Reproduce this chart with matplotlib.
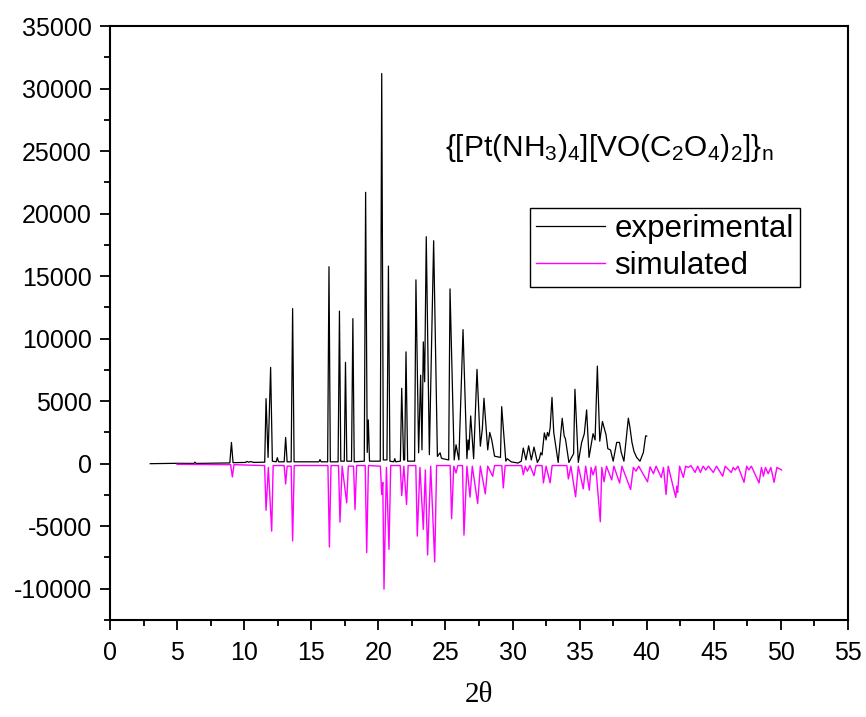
import matplotlib
matplotlib.use('Agg')
import matplotlib.pyplot as plt
from matplotlib.ticker import MultipleLocator

plt.rcParams['font.family'] = ['Liberation Sans', 'DejaVu Sans']
plt.rcParams['mathtext.fontset'] = 'custom'
plt.rcParams['mathtext.rm'] = 'Liberation Sans'
plt.rcParams['mathtext.it'] = 'Liberation Sans:italic'
plt.rcParams['axes.unicode_minus'] = False

# experimental pattern, vertices (2theta, counts)
exp_2theta = [3.0, 5.0, 6.25, 6.33, 6.41, 8.93, 9.05, 9.17, 10.1, 10.2, 10.35, 10.5, 10.7,
              11.53, 11.63, 11.78, 11.97, 12.1, 12.38, 12.47, 12.56, 12.98, 13.09, 13.2,
              13.5, 13.61, 13.72, 15.57, 15.65, 15.73, 16.22, 16.32, 16.42, 17.0, 17.1, 17.2,
              17.46, 17.55, 17.65, 18.0, 18.1, 18.2, 18.95, 19.05, 19.17, 19.25, 19.34, 20.14,
              20.25, 20.37, 20.64, 20.75, 20.86, 21.15, 21.22, 21.3, 21.64, 21.74, 21.88,
              21.96, 22.06, 22.18, 22.7, 22.8, 23.0, 23.15, 23.25, 23.35, 23.45, 23.57, 23.8,
              24.12, 24.4, 24.6, 24.7, 24.8, 25.24, 25.34, 25.65, 25.79, 26.0, 26.31, 26.6,
              26.68, 26.75, 26.88, 27.1, 27.35, 27.6, 27.75, 27.87, 28.15, 28.3, 28.45, 28.66,
              29.1, 29.19, 29.5, 29.6, 29.9, 30.4, 30.65, 30.8, 31.0, 31.2, 31.4, 31.6,
              31.85, 32.0, 32.1, 32.2, 32.37, 32.5, 32.6, 32.7, 32.8, 32.94, 33.07, 33.4,
              33.7, 33.85, 33.94, 34.2, 34.55, 34.65, 34.9, 35.15, 35.35, 35.52, 35.7, 35.9,
              36.0, 36.15, 36.32, 36.5, 36.7, 36.97, 37.1, 37.3, 37.5, 37.76, 37.97, 38.1,
              38.3, 38.63, 38.75, 38.9, 39.05, 39.25, 39.5, 39.75, 39.92, 40.0]
exp_counts = [0, 30, 20, 120, 20, 60, 1700, 80, 100, 180, 120, 170, 100,
              120, 5200, 500, 7700, 200, 150, 480, 150, 150, 2100, 150,
              150, 12400, 150, 150, 330, 150, 150, 15750, 150, 150, 12200, 200,
              200, 8100, 200, 200, 11600, 150, 200, 21700, 900, 3500, 200, 200,
              31200, 300, 300, 15800, 200, 150, 400, 150, 200, 6030, 300,
              300, 8940, 200, 200, 14700, 870, 7080, 1110, 9740, 6550, 18150, 720,
              17830, 580, 870, 450, 400, 300, 13980, 300, 1510, 300, 10720, 400,
              1900, 1100, 3820, 400, 7540, 1400, 2800, 5230, 1100, 2500, 1900, 600,
              500, 4560, 200, 400, 150, 50, 200, 1250, 300, 1430, 300, 1330,
              100, 400, 870, 700, 2460, 1900, 2500, 2200, 2840, 5300, 2500, 100,
              3630, 2200, 2000, 100, 800, 5950, 100, 1700, 2400, 4300, 500, 1780,
              2400, 1900, 7800, 1800, 3370, 2300, 1200, 1100, 200, 1700, 1700, 900,
              200, 3640, 2900, 1700, 980, 500, 200, 900, 2230, 2200]

# simulated pattern, plotted downwards
sim_2theta = [5.0, 8.99, 9.12, 9.24, 11.52, 11.63, 11.8, 12.05, 12.16, 12.98, 13.09, 13.2,
              13.5, 13.61, 13.73, 16.24, 16.35, 16.47, 17.03, 17.14, 17.3, 17.64, 17.76,
              18.15, 18.26, 18.38, 19.02, 19.13, 19.26, 20.15, 20.25, 20.33, 20.42, 20.6,
              20.79, 20.92, 21.63, 21.74, 21.9, 22.1, 22.22, 22.79, 22.9, 23.1, 23.35, 23.5,
              23.67, 23.9, 24.2, 24.34, 25.35, 25.46, 25.62, 25.79, 25.92, 26.27, 26.38,
              26.6, 26.83, 27.0, 27.4, 27.6, 27.97, 28.15, 28.52, 28.66, 29.2, 29.31, 29.45,
              30.68, 30.8, 30.95, 31.1, 31.3, 31.6, 31.75, 32.2, 32.3, 32.5, 32.8, 32.95,
              34.05, 34.16, 34.35, 34.7, 34.9, 35.27, 35.45, 35.72, 35.85, 36.0, 36.2, 36.54,
              36.65, 36.82, 37.0, 37.39, 37.55, 37.98, 38.15, 38.8, 39.0, 39.2, 39.4, 40.06,
              40.25, 40.5, 40.7, 41.08, 41.25, 41.44, 41.6, 42.16, 42.25, 42.3, 42.45, 42.73,
              42.9, 43.1, 43.3, 43.6, 43.8, 44.0, 44.2, 44.4, 44.6, 44.96, 45.2, 45.66,
              45.85, 46.3, 46.45, 46.6, 46.8, 47.25, 47.45, 47.6, 47.8, 48.37, 48.55, 48.7,
              48.85, 49.05, 49.25, 49.49, 49.7, 50.05]
sim_counts = [-50, -80, -1060, -80, -150, -3720, -300, -5390, -150, -150, -1620, -200,
              -200, -6180, -150, -150, -6660, -150, -150, -4670, -200, -3130, -200,
              -200, -3660, -150, -150, -7110, -150, -200, -2470, -1500, -10030, -300,
              -6850, -150, -150, -2550, -200, -3260, -150, -150, -5790, -300, -5250, -500,
              -7300, -200, -7860, -150, -150, -4400, -200, -740, -150, -150, -5710,
              -200, -2680, -200, -3180, -200, -2410, -200, -1010, -150, -150, -1940, -150,
              -150, -880, -200, -600, -150, -960, -150, -150, -1540, -200, -1540, -150,
              -150, -1220, -200, -2650, -200, -2010, -200, -2120, -300, -900, -200, -4640,
              -300, -1450, -200, -1300, -200, -1550, -200, -2070, -300, -600, -200, -1450,
              -250, -800, -200, -1100, -300, -2470, -200, -2700, -1800, -2300, -200, -1100,
              -200, -300, -150, -700, -200, -700, -200, -500, -200, -700, -200, -1000,
              -200, -700, -300, -500, -200, -1490, -200, -500, -200, -1540, -300, -1000,
              -300, -800, -300, -1490, -300, -500]

fig = plt.figure(figsize=(8.66, 7.17), dpi=100)
ax = fig.add_axes([110 / 866, 97 / 717, 738 / 866, 594 / 717])

ax.plot(exp_2theta, exp_counts, color='black', lw=0.9, label='experimental')
ax.plot(sim_2theta, sim_counts, color='#FF00FF', lw=1.0, label='simulated')

ax.set_xlim(0, 55)
ax.set_ylim(-12500, 35000)
ax.xaxis.set_major_locator(MultipleLocator(5))
ax.xaxis.set_minor_locator(MultipleLocator(2.5))
ax.yaxis.set_major_locator(MultipleLocator(5000))
ax.yaxis.set_minor_locator(MultipleLocator(2500))
ax.tick_params(which='major', direction='out', length=7, width=1.3, labelsize=18)
ax.tick_params(axis='x', which='major', pad=8)
ax.tick_params(axis='y', which='major', pad=6)
ax.tick_params(which='minor', direction='out', length=4, width=1.3)
for s in ax.spines.values():
    s.set_linewidth(1.5)

ax.set_xlabel('2\u03b8', family=['Liberation Serif', 'DejaVu Serif'], fontsize=21, labelpad=12)

ax.text(0.677, 0.795, r'{[Pt(NH$_3$)$_4$][VO(C$_2$O$_4$)$_2$]}$_\mathrm{n}$',
        transform=ax.transAxes, ha='center', va='center', fontsize=21.5)

leg = ax.legend(loc='upper left', bbox_to_anchor=(0.569, 0.6936), borderaxespad=0,
                fontsize=22.5, handlelength=2.2, handletextpad=0.3, borderpad=0.2,
                labelspacing=0.2, fancybox=False, framealpha=1)
leg.get_frame().set_edgecolor('black')
leg.get_frame().set_linewidth(1.0)

fig.savefig('out.png', dpi=100)
